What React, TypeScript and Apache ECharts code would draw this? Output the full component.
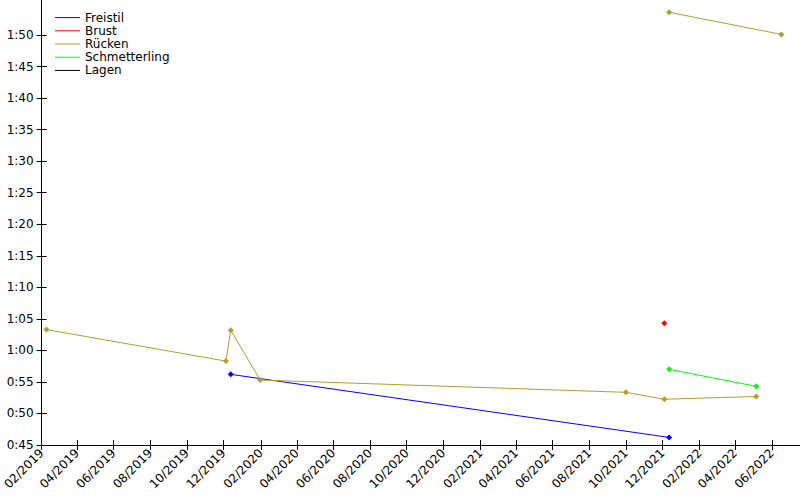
import React, { useEffect, useRef } from "react";
import * as echarts from "echarts";

// ---- data ----
const legendNames = ["Freistil", "Brust", "Rücken", "Schmetterling", "Lagen"];
const seriesColors = ["#0000ff", "#ff0000", "#b59c30", "#00ff00", "#000000"];

const freistilDates = ["2019-12-13", "2021-12-12"];
const freistilTimes = [56.2, 46.2];

const brustDates = ["2021-12-04"];
const brustTimes = [64.3];

const ruckenDates = ["2019-02-09", "2019-12-05", "2019-12-13", "2020-01-31", "2021-10-01", "2021-12-04", "2022-05-06"];
const ruckenTimes = [63.3, 58.3, 63.2, 55.3, 53.35, 52.25, 52.7];

const rucken200Dates = ["2021-12-12", "2022-06-17"];
const rucken200Times = [113.6, 110.1];

const schmetterlingDates = ["2021-12-12", "2022-05-06"];
const schmetterlingTimes = [57.0, 54.3];

const lagenDates: string[] = [];
const lagenTimes: number[] = [];

const xTickMonths = [
  "2019-02", "2019-04", "2019-06", "2019-08", "2019-10", "2019-12",
  "2020-02", "2020-04", "2020-06", "2020-08", "2020-10", "2020-12",
  "2021-02", "2021-04", "2021-06", "2021-08", "2021-10", "2021-12",
  "2022-02", "2022-04", "2022-06",
];
const yTickSeconds = [45, 50, 55, 60, 65, 70, 75, 80, 85, 90, 95, 100, 105, 110];

const xMinDate = "2019-02-01";
const xMaxDate = "2022-07-18";
const yMin = 45;
const yMax = 115.55;

// ---- helpers ----
const toTs = (s: string) => {
  const [y, m, d] = s.split("-").map(Number);
  return new Date(y, m - 1, d || 1).getTime();
};
const pair = (dates: string[], vals: number[]) => dates.map((d, i) => [toTs(d), vals[i]]);
const fmtDate = (v: number) => {
  const d = new Date(v);
  return String(d.getMonth() + 1).padStart(2, "0") + "/" + d.getFullYear();
};
const fmtTime = (v: number) => {
  const m = Math.floor(v / 60);
  const s = Math.round(v - m * 60);
  return m + ":" + String(s).padStart(2, "0");
};

const FONT = "DejaVu Sans";

export default function App() {
  const ref = useRef<HTMLDivElement>(null);
  useEffect(() => {
    if (!ref.current) return;
    const chart = echarts.init(ref.current, null, { renderer: "svg" });
    const xTicks = xTickMonths.map((m) => toTs(m));
    const xMin = toTs(xMinDate);
    const xMax = toTs(xMaxDate);

    const mkSeries = (name: string, color: string, data: number[][]) => ({
      name,
      type: "line",
      data,
      color,
      symbol: "diamond",
      symbolSize: 6,
      showSymbol: true,
      lineStyle: { width: 1, color },
      itemStyle: { color },
      emphasis: { disabled: true },
    });

    const axisLineStyle = { color: "#000", width: 1 };

    chart.setOption({
      animation: false,
      grid: { left: 40, right: 0, top: 0, bottom: 55, containLabel: false },
      legend: {
        data: legendNames.map((n) => ({ name: n, icon: "rect" })),
        orient: "vertical",
        left: 50,
        top: 6,
        itemWidth: 25,
        itemHeight: 1,
        itemGap: 0,
        textStyle: { fontFamily: FONT, fontSize: 12, color: "#000", lineHeight: 13.2 },
        selectedMode: false,
      },
      xAxis: [
        {
          type: "value",
          min: xMin,
          max: xMax,
          axisLine: { lineStyle: axisLineStyle },
          axisTick: { show: true, length: 5, inside: false, customValues: xTicks, lineStyle: axisLineStyle },
          axisLabel: {
            customValues: xTicks,
            formatter: (v: number) => fmtDate(v),
            rotate: 45,
            fontFamily: FONT,
            fontSize: 12,
            color: "#000",
            margin: 6,
            hideOverlap: false,
          },
          splitLine: { show: false },
        },
        {
          type: "value",
          min: xMin,
          max: xMax,
          position: "bottom",
          axisLine: { show: false },
          axisTick: { show: true, length: 5, inside: true, customValues: xTicks, lineStyle: axisLineStyle },
          axisLabel: { show: false },
          splitLine: { show: false },
        },
      ],
      yAxis: [
        {
          type: "value",
          min: yMin,
          max: yMax,
          axisLine: { show: true, lineStyle: axisLineStyle },
          axisTick: { show: true, length: 5, inside: false, customValues: yTickSeconds, lineStyle: axisLineStyle },
          axisLabel: {
            customValues: yTickSeconds,
            formatter: (v: number) => fmtTime(v),
            fontFamily: FONT,
            fontSize: 12,
            color: "#000",
            margin: 8,
          },
          splitLine: { show: false },
        },
        {
          type: "value",
          min: yMin,
          max: yMax,
          position: "left",
          axisLine: { show: false },
          axisTick: { show: true, length: 5, inside: true, customValues: yTickSeconds, lineStyle: axisLineStyle },
          axisLabel: { show: false },
          splitLine: { show: false },
        },
      ],
      series: [
        mkSeries("Freistil", seriesColors[0], pair(freistilDates, freistilTimes)),
        mkSeries("Brust", seriesColors[1], pair(brustDates, brustTimes)),
        mkSeries("Rücken", seriesColors[2], pair(ruckenDates, ruckenTimes)),
        mkSeries("Rücken", seriesColors[2], pair(rucken200Dates, rucken200Times)),
        mkSeries("Schmetterling", seriesColors[3], pair(schmetterlingDates, schmetterlingTimes)),
        mkSeries("Lagen", seriesColors[4], pair(lagenDates, lagenTimes)),
      ],
    });
    return () => chart.dispose();
  }, []);
  return (
    <div
      ref={ref}
      style={{ position: "fixed", left: 0, top: 0, width: 800, height: 500, background: "#fff" }}
    />
  );
}
